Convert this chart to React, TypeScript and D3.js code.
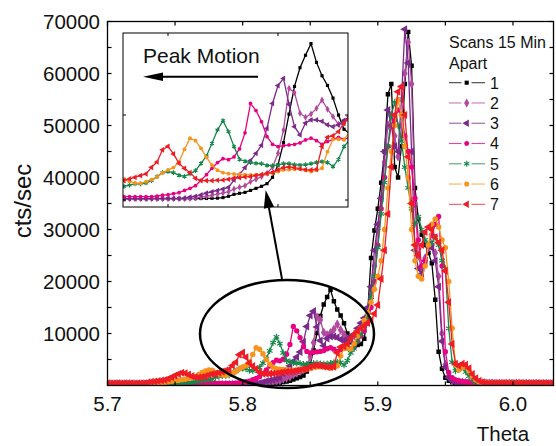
import React from "react";
import * as d3 from "d3";

// Theta scan grid (degrees): first sample and sampling step
const THETA_START = 5.7;
const THETA_STEP = 0.0025;

// Intensity (cts/sec) for each scan, one value per grid sample
const scan1 = [
  300, 300, 290, 300, 290, 280, 290, 280, 270, 280,
  270, 270, 260, 260, 250, 250, 240, 240, 230, 230,
  220, 220, 210, 210, 200, 200, 190, 190, 180, 180,
  170, 160, 160, 160, 160, 160, 160, 160, 160, 160,
  160, 160, 160, 160, 160, 160, 170, 180, 200, 220,
  280, 440, 670, 790, 900, 1130, 1370, 1610, 1920, 2670,
  4120, 6740, 10100, 13360, 15560, 17030, 18400, 16190, 14620, 13480,
  11990, 9990, 8320, 7840, 7800, 8000, 9000, 14000, 24500, 29800,
  34000, 39000, 45000, 56000, 58000, 42000, 40000, 46000, 58000, 68000,
  61500, 38000, 32000, 29000, 27000, 25500, 23500, 16500, 6500, 3200,
  1500, 900, 600, 500, 450, 420, 400, 400, 380, 380,
  370, 370, 360, 360, 360, 350, 350, 350, 340, 340,
  340, 330, 330, 330, 320, 320, 320, 310, 310, 310,
  300, 300, 300,
];
const scan2 = [
  250, 250, 240, 250, 240, 240, 230, 240, 230, 230,
  230, 220, 220, 220, 210, 210, 210, 200, 200, 200,
  200, 190, 190, 190, 180, 180, 180, 170, 170, 160,
  160, 150, 150, 150, 150, 150, 150, 150, 150, 150,
  150, 150, 150, 150, 180, 230, 340, 440, 550, 700,
  810, 970, 1300, 1490, 1690, 2160, 2440, 2750, 3140, 3840,
  5490, 8240, 13150, 12620, 10210, 9730, 10120, 10780, 11770, 10680,
  9810, 8900, 9030, 9620, 10500, 11500, 12500, 14000, 17000, 23000,
  30000, 36000, 43000, 50000, 52000, 48000, 44000, 50000, 60000, 66000,
  58000, 35000, 25000, 22000, 24500, 26500, 27000, 25500, 21000, 10000,
  4000, 1800, 1000, 800, 700, 600, 550, 500, 480, 460,
  450, 440, 430, 420, 420, 410, 400, 400, 400, 390,
  390, 380, 380, 380, 370, 370, 370, 360, 360, 360,
  350, 350, 350,
];
const scan3 = [
  220, 230, 220, 220, 230, 220, 210, 220, 210, 210,
  210, 200, 210, 200, 200, 190, 200, 190, 190, 190,
  180, 190, 180, 180, 180, 170, 180, 170, 170, 170,
  170, 160, 160, 160, 160, 160, 160, 180, 180, 180,
  180, 180, 180, 230, 340, 440, 600, 810, 970, 1120,
  1280, 1490, 2350, 3020, 3800, 4640, 5480, 6430, 8420, 11360,
  13460, 14300, 11260, 8630, 7650, 9050, 9420, 9420, 9260, 8840,
  8630, 8840, 9370, 9790, 11000, 12000, 13000, 15000, 19000, 26000,
  31000, 36000, 45000, 53000, 50000, 46000, 45000, 55000, 68500, 62000,
  45000, 26000, 22500, 21500, 24000, 27000, 26500, 24000, 19000, 8500,
  3500, 1500, 900, 700, 600, 500, 480, 460, 440, 430,
  420, 420, 410, 410, 400, 400, 400, 390, 390, 390,
  380, 380, 380, 370, 370, 370, 360, 360, 360, 350,
  350, 350, 340,
];
const scan4 = [
  200, 210, 200, 200, 210, 200, 200, 210, 200, 210,
  200, 210, 210, 200, 210, 220, 210, 220, 220, 230,
  230, 240, 240, 250, 250, 260, 280, 300, 330, 360,
  380, 400, 400, 400, 400, 400, 400, 400, 470, 560,
  630, 740, 860, 1130, 1370, 1690, 2320, 2980, 3730, 4400,
  4860, 4750, 5060, 6010, 7900, 11360, 10520, 9220, 7450, 6550,
  6280, 6390, 6480, 6550, 6710, 7070, 7270, 6980, 6550, 6870,
  7140, 7380, 7140, 7370, 8500, 9500, 10500, 12000, 15000, 20000,
  27000, 34000, 40000, 46000, 50000, 51000, 53000, 52000, 48000, 45000,
  42000, 36000, 28000, 23000, 24000, 27000, 29000, 31000, 32500, 23000,
  6500, 2500, 1500, 1100, 900, 800, 700, 600, 550, 500,
  480, 470, 460, 450, 450, 440, 440, 430, 430, 420,
  420, 420, 410, 410, 400, 400, 400, 400, 390, 390,
  390, 380, 380,
];
const scan5 = [
  300, 310, 300, 300, 310, 300, 300, 310, 300, 310,
  300, 310, 300, 310, 320, 320, 330, 340, 350, 360,
  380, 400, 430, 480, 540, 620, 700, 850, 1000, 1100,
  1150, 1220, 1610, 1760, 1890, 1890, 2000, 2280, 2750, 3220,
  3340, 3220, 2910, 2790, 3070, 3450, 4310, 5180, 6670, 8240,
  9340, 8040, 6280, 4790, 4560, 4400, 4310, 4270, 4080, 4040,
  4120, 4270, 4270, 4160, 4120, 4160, 4270, 4430, 4510, 4430,
  3930, 4790, 6280, 7070, 8500, 9800, 11500, 13500, 17000, 21000,
  26500, 33000, 39000, 46000, 52000, 54500, 50000, 47000, 42000, 38000,
  34000, 31000, 32500, 30000, 28000, 27000, 27500, 28500, 27000, 24000,
  22500, 11000, 4500, 2800, 3200, 3600, 2600, 1800, 1100, 700,
  500, 470, 450, 440, 430, 420, 420, 410, 410, 400,
  400, 400, 390, 390, 390, 380, 380, 380, 370, 370,
  370, 360, 360,
];
const scan6 = [
  350, 340, 350, 350, 340, 350, 350, 340, 350, 350,
  340, 350, 360, 360, 370, 380, 500, 600, 700, 800,
  900, 1000, 1100, 1200, 1350, 1500, 1750, 2100, 2500, 2800,
  3000, 2950, 2480, 2190, 2000, 1960, 2160, 2390, 2710, 3180,
  3540, 3810, 4510, 5960, 7270, 6980, 6080, 5020, 4080, 3500,
  3220, 3100, 3070, 3020, 2980, 2950, 2980, 3020, 3070, 3180,
  3340, 3540, 3570, 3610, 3610, 3500, 3340, 3500, 3730, 5690,
  7140, 7140, 7070, 8040, 9500, 11000, 12500, 14000, 16000, 18500,
  21000, 24000, 30000, 38000, 45000, 50000, 55000, 52000, 46000, 40000,
  30000, 24000, 21000, 20500, 23000, 27000, 31000, 32000, 30500, 28000,
  26500, 20000, 11000, 4000, 3000, 3500, 3600, 2800, 1700, 1100,
  700, 550, 480, 460, 450, 450, 440, 440, 430, 430,
  420, 420, 420, 410, 410, 410, 400, 400, 400, 400,
  390, 390, 390,
];
const scan7 = [
  420, 400, 430, 410, 400, 420, 410, 430, 400, 420,
  420, 450, 600, 700, 750, 850, 950, 1050, 1300, 1600,
  1900, 2200, 2450, 2350, 2100, 1800, 1600, 1550, 1650, 1800,
  2000, 2190, 2280, 2480, 2670, 2870, 3070, 3840, 4470, 5900,
  6320, 5420, 4310, 3730, 3220, 2550, 2280, 2280, 2280, 2320,
  2350, 2440, 2590, 2620, 2710, 2750, 2870, 2980, 3140, 3250,
  3540, 3810, 3880, 3810, 3680, 3570, 3540, 3610, 6280, 7380,
  7570, 8040, 9030, 9890, 10500, 11000, 11500, 12000, 12500, 13800,
  15500, 20500, 26000, 33000, 42000, 52000, 56500, 57500, 52000, 44000,
  35000, 27000, 25000, 27000, 29500, 30500, 30000, 28500, 27500, 26000,
  22000, 16000, 8000, 4200, 3800, 4200, 4000, 3300, 2200, 1400,
  900, 600, 450, 430, 450, 420, 440, 430, 420, 450,
  430, 420, 440, 430, 420, 440, 430, 420, 430, 440,
  420, 430, 420,
];

const SCANS = [scan1, scan2, scan3, scan4, scan5, scan6, scan7];
const SCAN_LABELS = ["1", "2", "3", "4", "5", "6", "7"];
const SCAN_COLORS = ["#000000", "#b24a9f", "#7b2a8b", "#e9007f", "#14874a", "#f7941d", "#ee1c25"];

const Y_TICKS = [10000, 20000, 30000, 40000, 50000, 60000, 70000];
const Y_MINOR = [5000, 15000, 25000, 35000, 45000, 55000, 65000];
const X_TICKS = [5.7, 5.8, 5.9, 6.0];
const X_MINOR = [5.75, 5.85, 5.95];
const INSET_X_TICKS = [5.8, 5.85];
const INSET_Y_TICKS = [0, 10000];

const FONT = "'Liberation Sans', Arial, sans-serif";

type Sym = { type: d3.SymbolType; size: number; rotate: number; stroked: boolean };
const SYMBOLS: Sym[] = [
  { type: d3.symbolSquare, size: 20, rotate: 0, stroked: false },
  { type: d3.symbolDiamond, size: 28, rotate: 0, stroked: false },
  { type: d3.symbolTriangle, size: 28, rotate: -90, stroked: false },
  { type: d3.symbolCircle, size: 22, rotate: 0, stroked: false },
  { type: d3.symbolAsterisk, size: 30, rotate: 0, stroked: true },
  { type: d3.symbolCircle, size: 24, rotate: 0, stroked: false },
  { type: d3.symbolTriangle, size: 28, rotate: -90, stroked: false },
];

function Marker({ k, cx, cy, scale = 1 }: { k: number; cx: number; cy: number; scale?: number }) {
  const s = SYMBOLS[k];
  const d = d3.symbol().type(s.type).size(s.size * scale)() as string;
  const c = SCAN_COLORS[k];
  return (
    <path
      d={d}
      transform={`translate(${cx},${cy}) rotate(${s.rotate})`}
      fill={s.stroked ? "none" : c}
      stroke={s.stroked ? c : "none"}
      strokeWidth={s.stroked ? 1.1 : 0}
    />
  );
}

export default function App() {
  const W = 556;
  const H = 446;

  // Main plot
  const x = d3.scaleLinear().domain([5.7, 6.03]).range([107.5, 553.5]);
  const y = d3.scaleLinear().domain([0, 70000]).range([385.5, 21.5]);
  const [px0, px1] = x.range();
  const [py1, py0] = y.range();

  // Inset (magnified view of the small peaks)
  const ix = d3.scaleLinear().domain([5.8, 5.85]).range([168, 278]);
  const iy = d3.scaleLinear().domain([0, 10000]).range([200, 115]);
  const ib = { x0: 123, x1: 348, y0: 33, y1: 207 };

  const theta = (i: number) => THETA_START + i * THETA_STEP;
  const pts = SCANS.map((vals) => vals.map((v, i) => [theta(i), v] as [number, number]));

  const mainLine = d3
    .line<[number, number]>()
    .x((d) => x(d[0]))
    .y((d) => y(d[1]));
  const insetLine = d3
    .line<[number, number]>()
    .x((d) => ix(d[0]))
    .y((d) => iy(d[1]));

  const tLo = ix.invert(ib.x0 - 6);
  const tHi = ix.invert(ib.x1 + 6);
  const insetPts = pts.map((p) => p.filter((d) => d[0] >= tLo && d[0] <= tHi));

  // Pointer from the ellipse to the inset
  const ell = { cx: 287, cy: 334, rx: 87, ry: 54 };
  const pStart = [282, 279];
  const pTip = [265.7, 190];
  const ux = pTip[0] - pStart[0];
  const uy = pTip[1] - pStart[1];
  const ul = Math.hypot(ux, uy);
  const u = [ux / ul, uy / ul];
  const perp = [-u[1], u[0]];
  const headLen = 18;
  const headHalf = 5.2;
  const base = [pTip[0] - u[0] * headLen, pTip[1] - u[1] * headLen];

  const legendX = 449;
  const legendRowY = (k: number) => 82.7 + k * 20.27;

  return (
    <svg
      width={W}
      height={H}
      viewBox={`0 0 ${W} ${H}`}
      style={{ position: "absolute", left: 0, top: 0, background: "#fff" }}
      fontFamily={FONT}
    >
      <defs>
        <clipPath id="plotClip">
          <rect x={px0} y={py0} width={px1 - px0} height={py1 - py0} />
        </clipPath>
        <clipPath id="insetClip">
          <rect x={ib.x0} y={ib.y0} width={ib.x1 - ib.x0} height={ib.y1 - ib.y0} />
        </clipPath>
      </defs>
      <rect x={0} y={0} width={W} height={H} fill="#fff" />

      {/* scans */}
      <g clipPath="url(#plotClip)">
        {pts.map((p, k) => (
          <g key={k}>
            <path d={mainLine(p) as string} fill="none" stroke={SCAN_COLORS[k]} strokeWidth={1.3} />
            {p.map((d, i) => (
              <Marker key={i} k={k} cx={x(d[0])} cy={y(d[1])} />
            ))}
          </g>
        ))}
      </g>

      {/* frame */}
      <rect x={px0} y={py0} width={px1 - px0} height={py1 - py0} fill="none" stroke="#000" strokeWidth={1.3} />

      {/* y ticks */}
      {[...Y_TICKS, ...Y_MINOR].map((t) => (
        <g key={"y" + t}>
          <line x1={px0} x2={px0 + 4} y1={y(t)} y2={y(t)} stroke="#000" strokeWidth={1.2} />
          <line x1={px1 - 4} x2={px1} y1={y(t)} y2={y(t)} stroke="#000" strokeWidth={1.2} />
        </g>
      ))}
      {Y_TICKS.map((t) => (
        <text key={"yl" + t} x={100} y={y(t)} dy="0.36em" textAnchor="end" fontSize={20.5} fill="#111">
          {t}
        </text>
      ))}

      {/* x ticks */}
      {[...X_TICKS, ...X_MINOR].map((t) => (
        <g key={"x" + t}>
          <line x1={x(t)} x2={x(t)} y1={py1} y2={py1 - 4} stroke="#000" strokeWidth={1.2} />
          <line x1={x(t)} x2={x(t)} y1={py0} y2={py0 + 4} stroke="#000" strokeWidth={1.2} />
        </g>
      ))}
      {X_TICKS.map((t) => (
        <text key={"xl" + t} x={x(t)} y={410.5} textAnchor="middle" fontSize={20.5} fill="#111">
          {d3.format(".1f")(t)}
        </text>
      ))}

      {/* axis titles */}
      <text x={503} y={441} textAnchor="middle" fontSize={20.5} fill="#111">
        Theta
      </text>
      <text transform={`translate(31,201) rotate(-90)`} textAnchor="middle" fontSize={24} fill="#111">
        cts/sec
      </text>

      {/* legend */}
      <text x={legendX} y={47.5} fontSize={16} fill="#111">
        Scans 15 Min
      </text>
      <text x={legendX} y={68.5} fontSize={16} fill="#111">
        Apart
      </text>
      {SCAN_LABELS.map((lab, k) => {
        const ry = legendRowY(k);
        return (
          <g key={"lg" + k}>
            <line x1={legendX} x2={461.5} y1={ry} y2={ry} stroke={SCAN_COLORS[k]} strokeWidth={1.1} opacity={0.75} />
            <line x1={471.5} x2={485} y1={ry} y2={ry} stroke={SCAN_COLORS[k]} strokeWidth={1.1} opacity={0.75} />
            <Marker k={k} cx={466.7} cy={ry} scale={0.85} />
            <text x={490} y={ry + 5.8} fontSize={16} fill="#111">
              {lab}
            </text>
          </g>
        );
      })}

      {/* ellipse around the small peaks */}
      <ellipse cx={ell.cx} cy={ell.cy} rx={ell.rx} ry={ell.ry} fill="none" stroke="#000" strokeWidth={2.5} />

      {/* inset */}
      <rect x={ib.x0} y={ib.y0} width={ib.x1 - ib.x0} height={ib.y1 - ib.y0} fill="#fff" />
      <g clipPath="url(#insetClip)">
        {insetPts.map((p, k) => (
          <g key={"in" + k}>
            <path d={insetLine(p) as string} fill="none" stroke={SCAN_COLORS[k]} strokeWidth={1.3} />
            {p.map((d, i) => (
              <Marker key={i} k={k} cx={ix(d[0])} cy={iy(d[1])} scale={0.5} />
            ))}
          </g>
        ))}
      </g>
      <rect x={ib.x0} y={ib.y0} width={ib.x1 - ib.x0} height={ib.y1 - ib.y0} fill="none" stroke="#000" strokeWidth={1} />
      {INSET_X_TICKS.map((t) => (
        <g key={"ixt" + t}>
          <line x1={ix(t)} x2={ix(t)} y1={ib.y1} y2={ib.y1 - 3} stroke="#000" strokeWidth={1} />
          <line x1={ix(t)} x2={ix(t)} y1={ib.y0} y2={ib.y0 + 3} stroke="#000" strokeWidth={1} />
        </g>
      ))}
      {INSET_Y_TICKS.map((t) => (
        <g key={"iyt" + t}>
          <line x1={ib.x0} x2={ib.x0 + 3} y1={iy(t)} y2={iy(t)} stroke="#000" strokeWidth={1} />
          <line x1={ib.x1} x2={ib.x1 - 3} y1={iy(t)} y2={iy(t)} stroke="#000" strokeWidth={1} />
        </g>
      ))}

      {/* peak motion annotation */}
      <text x={143} y={62.5} fontSize={21} fill="#111">
        Peak Motion
      </text>
      <line x1={258} x2={158} y1={76.7} y2={76.7} stroke="#000" strokeWidth={2} />
      <polygon points={`143,76.7 163,72.5 163,80.9`} fill="#000" />

      {/* pointer from ellipse to inset */}
      <line x1={pStart[0]} y1={pStart[1]} x2={base[0]} y2={base[1]} stroke="#000" strokeWidth={2} />
      <polygon
        points={[
          pTip,
          [base[0] + perp[0] * headHalf, base[1] + perp[1] * headHalf],
          [base[0] - perp[0] * headHalf, base[1] - perp[1] * headHalf],
        ]
          .map((q) => q.join(","))
          .join(" ")}
        fill="#000"
      />
    </svg>
  );
}
